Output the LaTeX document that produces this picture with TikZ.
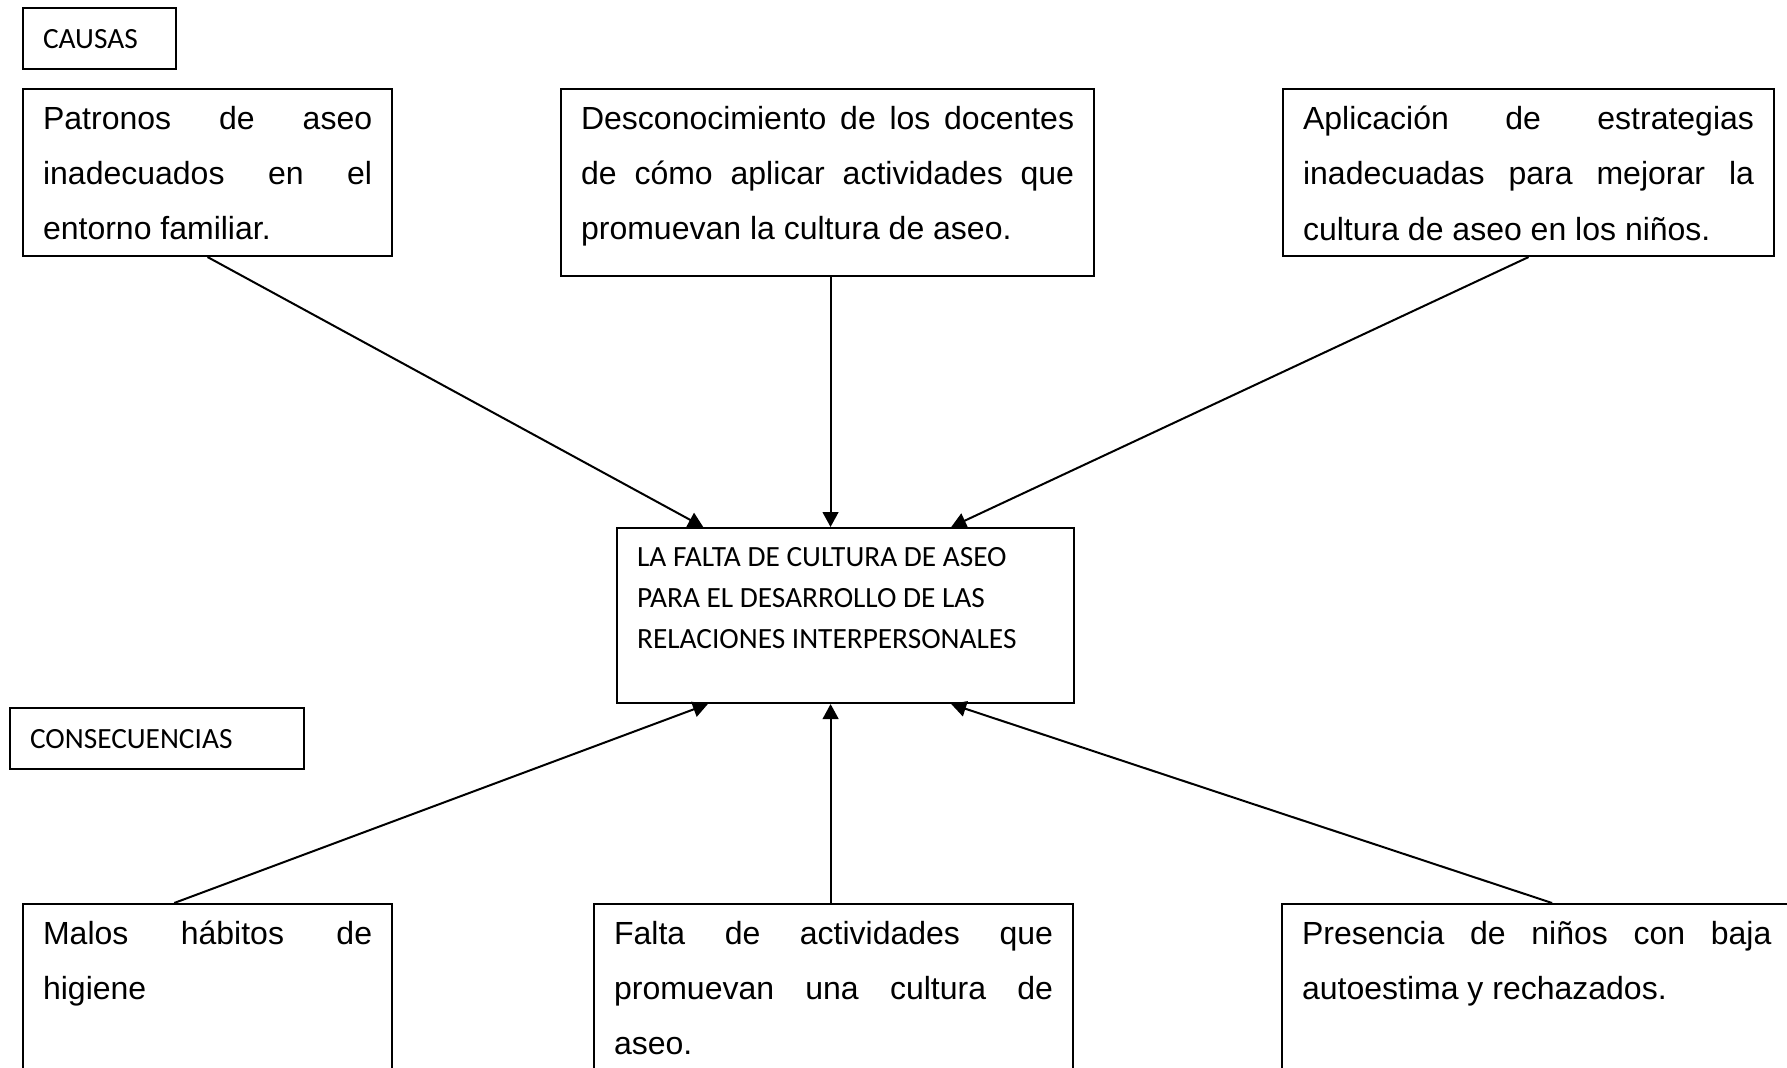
\documentclass[tikz,border=0pt]{standalone}
\usepackage{fontspec}
\usetikzlibrary{arrows.meta, calc}
\newfontfamily\arialtxt{Liberation Sans}
\newfontfamily\calibritxt{Carlito}
\hbadness=10000
\vbadness=10000
\vfuzz=20pt
\tikzset{
  caja/.style     = {draw=black, line width=0.8pt, rectangle, anchor=north west,
                     inner xsep=7.5pt, inner ysep=6.3pt, font=\arialtxt\fontsize{12}{20.75}\selectfont},
  cajamay/.style  = {caja, inner ysep=7.1pt, font=\calibritxt\fontsize{11}{15.5}\selectfont},
  etiqueta/.style = {draw=black, line width=0.8pt, rectangle, anchor=north west,
                     inner xsep=7.5pt, inner ysep=0pt, minimum height=22.9pt, align=left,
                     font=\calibritxt\fontsize{11}{13.4}\selectfont},
  flecha/.style   = {-{Triangle[length=5.6pt, width=5.9pt]}, line width=0.75pt},
}
\begin{document}
\begin{tikzpicture}[x=0.375pt, y=-0.375pt]
  \useasboundingbox (0,0) rectangle (1787,1068);

  % causas
  \node[etiqueta, text width=42.4pt] (causas) at (22,7) {CAUSAS};
  \node[caja] (patronos) at (22,88)
    {\parbox[t][50pt][t]{123.4pt}{Patronos de aseo\linebreak inadecuados en el\linebreak entorno familiar.}};
  \node[caja] (descon) at (560,88)
    {\parbox[t][57.5pt][t]{184.9pt}{Desconocimiento de los docentes\linebreak de cómo aplicar actividades que\linebreak promuevan la cultura de aseo.}};
  \node[caja] (aplic) at (1282,88)
    {\parbox[t][50pt][t]{169.1pt}{Aplicación de estrategias\linebreak inadecuadas para mejorar la\linebreak cultura de aseo en los niños.}};

  % problema
  \node[cajamay] (centro) at (616,527)
    {\parbox[t][51.4pt][t]{156.4pt}{\raggedright LA FALTA DE CULTURA DE ASEO\\ PARA EL DESARROLLO DE LAS\\ RELACIONES INTERPERSONALES}};

  % consecuencias
  \node[etiqueta, text width=95.25pt] (consec) at (9,707) {CONSECUENCIAS};
  \node[caja] (malos) at (22,903)
    {\parbox[t][62.4pt][t]{123.4pt}{Malos hábitos de\linebreak higiene}};
  \node[caja] (falta) at (593,903)
    {\parbox[t][62.4pt][t]{164.6pt}{Falta de actividades que\linebreak promuevan una cultura de\linebreak aseo.}};
  \node[caja] (presencia) at (1281,903)
    {\parbox[t][62.4pt][t]{176pt}{Presencia de niños con baja\linebreak autoestima y rechazados.}};

  \draw[flecha] (patronos.south) -- ($(centro.north west)!0.19!(centro.north east)$);
  \draw[flecha] ([xshift=1.1pt]descon.south) -- ([xshift=1.1pt]descon.south |- centro.north);
  \draw[flecha] (aplic.south) -- ($(centro.north west)!0.73!(centro.north east)$);

  \draw[flecha] ($(malos.north west)!0.41!(malos.north east)$) -- ($(centro.south west)!0.2!(centro.south east)$);
  \draw[flecha] ([xshift=-1.1pt]falta.north) -- ([xshift=-1.1pt]falta.north |- centro.south);
  \draw[flecha] ($(presencia.north west)!0.53!(presencia.north east)$) -- ($(centro.south west)!0.73!(centro.south east)$);
\end{tikzpicture}
\end{document}
